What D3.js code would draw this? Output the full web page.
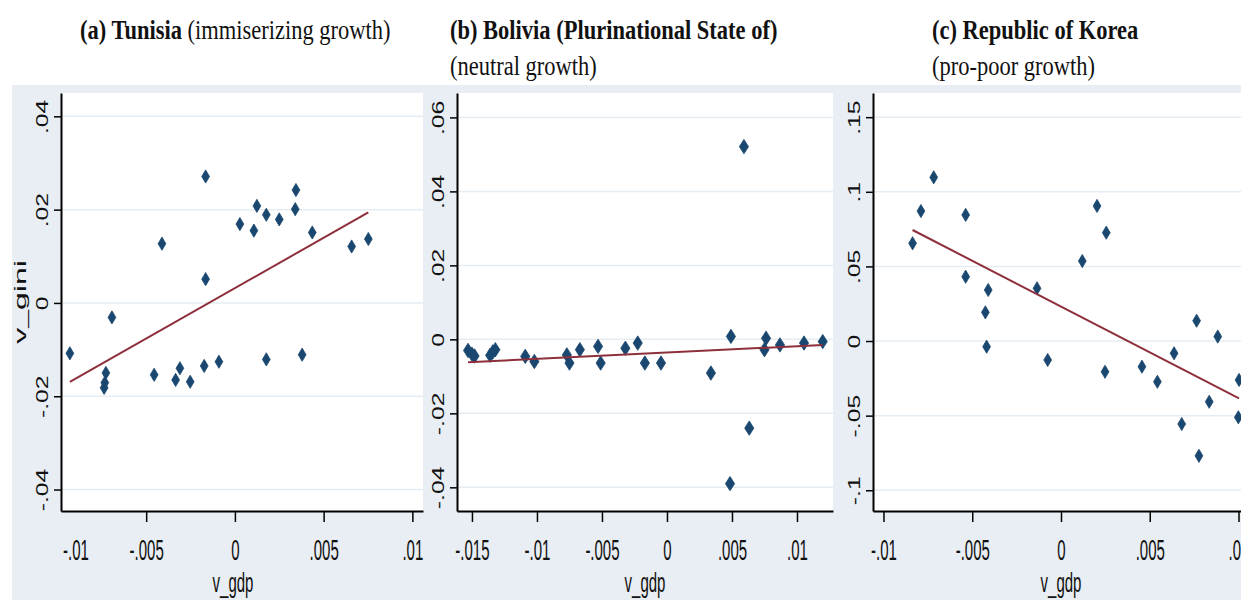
<!DOCTYPE html>
<html>
<head>
<meta charset="utf-8">
<script src="https://cdn.jsdelivr.net/npm/d3@7"></script>
<style>
  body { margin: 0; background: #ffffff; }
  svg { display: block; }
</style>
</head>
<body>
<svg id="chart" width="1241" height="600"></svg>
<script>
// ---- Data: yearly changes in GDP (v_gdp) and Gini (v_gini) ----

// (a) Tunisia
const tunisiaGdp  = [-0.00165, -0.00411, -0.00165, -0.00693, 0.00028, 0.00107, 0.00124, 0.00177, 0.0025,
                     0.00344, 0.0034, 0.00436, 0.00658, 0.00752, -0.0093, -0.00737, -0.00733, -0.00727,
                     -0.00455, -0.00334, -0.0031, -0.00252, -0.00173, -0.0009, 0.00177, 0.00379];
const tunisiaGini = [0.0271, 0.0127, 0.0051, -0.0031, 0.0169, 0.0155, 0.0208, 0.0189, 0.0179,
                     0.0242, 0.0201, 0.0151, 0.0121, 0.0137, -0.0108, -0.0182, -0.0171, -0.0150,
                     -0.0154, -0.0165, -0.0140, -0.0169, -0.0135, -0.0126, -0.0121, -0.0111];
const tunisiaFitGdp  = [-0.0093, 0.00752];
const tunisiaFitGini = [-0.0169, 0.0194];

// (b) Bolivia
const boliviaGdp  = [-0.0153, -0.0150, -0.0148, -0.0136, -0.0134, -0.0132, -0.0109, -0.0102, -0.0077,
                     -0.0075, -0.0067, -0.0053, -0.0051, -0.0032, -0.00225, -0.0017, -0.00046, 0.00338,
                     0.00492, 0.00485, 0.00633, 0.00592, 0.00762, 0.0075, 0.00869, 0.01054, 0.01198];
const boliviaGini = [-0.0030, -0.0040, -0.0045, -0.0043, -0.0034, -0.0028, -0.0046, -0.0060, -0.0042,
                     -0.0064, -0.0028, -0.0019, -0.0064, -0.0024, -0.0010, -0.0064, -0.0064, -0.0091,
                     0.0008, -0.0390, -0.0240, 0.0521, 0.0003, -0.0028, -0.0015, -0.0010, -0.0006];
const boliviaFitGdp  = [-0.0153, 0.01198];
const boliviaFitGini = [-0.0062, -0.0015];

// (c) Republic of Korea
const koreaGdp  = [-0.00836, -0.00789, -0.00717, -0.00537, -0.00537, -0.0041, -0.00426, -0.00135, 0.0012,
                   0.00203, 0.00255, 0.00764, 0.00883, -0.00419, -0.00075, 0.00248, 0.00456, 0.00543,
                   0.00637, 0.0068, 0.00777, 0.00835, 0.01003, 0.00999];
const koreaGini = [0.0655, 0.0871, 0.1097, 0.0845, 0.0431, 0.0342, 0.0192, 0.0353, 0.0536,
                   0.0905, 0.0726, 0.0136, 0.0030, -0.0038, -0.0127, -0.0206, -0.0172, -0.0273,
                   -0.0082, -0.0556, -0.0769, -0.0407, -0.0261, -0.0511];
const koreaFitGdp  = [-0.00836, 0.01003];
const koreaFitGini = [0.0744, -0.0384];

// Tick values and their labels
const tunisiaXTicks  = [-0.01, -0.005, 0, 0.005, 0.01];
const tunisiaXLabels = ["-.01", "-.005", "0", ".005", ".01"];
const tunisiaYTicks  = [-0.04, -0.02, 0, 0.02, 0.04];
const tunisiaYLabels = ["-.04", "-.02", "0", ".02", ".04"];

const boliviaXTicks  = [-0.015, -0.01, -0.005, 0, 0.005, 0.01];
const boliviaXLabels = ["-.015", "-.01", "-.005", "0", ".005", ".01"];
const boliviaYTicks  = [-0.04, -0.02, 0, 0.02, 0.04, 0.06];
const boliviaYLabels = ["-.04", "-.02", "0", ".02", ".04", ".06"];

const koreaXTicks  = [-0.01, -0.005, 0, 0.005, 0.01];
const koreaXLabels = ["-.01", "-.005", "0", ".005", ".01"];
const koreaYTicks  = [-0.1, -0.05, 0, 0.05, 0.1, 0.15];
const koreaYLabels = ["-.1", "-.05", "0", ".05", ".1", ".15"];

// ---- Layout ----
const TOP = 93, BOTTOM = 511;
const NAVY = "#1a476f", MAROON = "#8e2f3c";
const SANS = "'Liberation Sans', Arial, sans-serif";
const SERIF = "'Liberation Serif', 'Times New Roman', serif";

const panels = [
  { left: 61, right: 423, xDomain: [-0.0098, 0.0106], yDomain: [-0.0446, 0.045],
    gdp: tunisiaGdp, gini: tunisiaGini, fitGdp: tunisiaFitGdp, fitGini: tunisiaFitGini,
    xTicks: tunisiaXTicks, xLabels: tunisiaXLabels, yTicks: tunisiaYTicks, yLabels: tunisiaYLabels,
    titleX: 80, bold: "(a) Tunisia", rest: " (immiserizing growth)", line2: null,
    xTitleX: 233, yTitle: "v_gini", marker: [3.9, 6.6] },
  { left: 457, right: 833, xDomain: [-0.01615, 0.01277], yDomain: [-0.0464, 0.0666],
    gdp: boliviaGdp, gini: boliviaGini, fitGdp: boliviaFitGdp, fitGini: boliviaFitGini,
    xTicks: boliviaXTicks, xLabels: boliviaXLabels, yTicks: boliviaYTicks, yLabels: boliviaYLabels,
    titleX: 450, bold: "(b) Bolivia (Plurinational State of)", rest: "", line2: "(neutral growth)",
    xTitleX: 645, yTitle: null, marker: [4.6, 7.2] },
  { left: 873, right: 1241, xDomain: [-0.01059, 0.01014], yDomain: [-0.1139, 0.1662],
    gdp: koreaGdp, gini: koreaGini, fitGdp: koreaFitGdp, fitGini: koreaFitGini,
    xTicks: koreaXTicks, xLabels: koreaXLabels, yTicks: koreaYTicks, yLabels: koreaYLabels,
    titleX: 932, bold: "(c) Republic of Korea", rest: "", line2: "(pro-poor growth)",
    xTitleX: 1061, yTitle: null, marker: [3.9, 6.6] }
];

const svg = d3.select("#chart");

// graph region backdrop
svg.append("rect").attr("x", 12).attr("y", 85).attr("width", 1229).attr("height", 515)
  .attr("fill", "#e8eef4");

function diamond(w, h) {
  return `M0,${-h}L${w},0L0,${h}L${-w},0Z`;
}

panels.forEach(p => {
  const x = d3.scaleLinear().domain(p.xDomain).range([p.left, p.right]);
  const y = d3.scaleLinear().domain(p.yDomain).range([BOTTOM, TOP]);

  // plot region
  svg.append("rect").attr("x", p.left).attr("y", TOP)
    .attr("width", p.right - p.left).attr("height", BOTTOM - TOP).attr("fill", "#ffffff");

  // horizontal grid
  svg.append("g").selectAll("line").data(p.yTicks).join("line")
    .attr("x1", p.left).attr("x2", p.right)
    .attr("y1", d => y(d)).attr("y2", d => y(d))
    .attr("stroke", "#e6edf2").attr("stroke-width", 1.5);

  // scatter markers
  const pts = p.gdp.map((g, i) => [g, p.gini[i]]);
  svg.append("g").selectAll("path").data(pts).join("path")
    .attr("d", diamond(p.marker[0], p.marker[1]))
    .attr("transform", d => `translate(${x(d[0])},${y(d[1])})`)
    .attr("fill", NAVY).attr("stroke", NAVY).attr("stroke-width", 0.8);

  // linear fit
  const fit = p.fitGdp.map((g, i) => [g, p.fitGini[i]]);
  svg.append("path").datum(fit)
    .attr("d", d3.line().x(d => x(d[0])).y(d => y(d[1])))
    .attr("fill", "none").attr("stroke", MAROON).attr("stroke-width", 2);

  // x axis
  const gx = svg.append("g").attr("transform", `translate(0,${BOTTOM})`)
    .call(d3.axisBottom(x).tickValues(p.xTicks).tickFormat((d, i) => p.xLabels[i])
      .tickSize(11).tickSizeOuter(0));
  gx.select(".domain").attr("stroke", "#000").attr("stroke-width", 2);
  gx.selectAll(".tick line").attr("stroke", "#000").attr("stroke-width", 1.5);
  gx.selectAll(".tick text")
    .attr("x", null).attr("y", null).attr("dy", null)
    .attr("fill", "#111").attr("font-family", SANS).attr("font-size", 15)
    .attr("text-anchor", "middle")
    .attr("transform", "translate(0,49) scale(1,2)");
  // keep a label whose tick sits left of the y axis clear of it
  gx.selectAll(".tick").filter(d => x(d) < p.left).each(function () {
    const t = d3.select(this);
    t.select("line").remove();
    t.select("text").attr("transform", "translate(18,49) scale(1,2)");
  });

  // y axis
  const gy = svg.append("g").attr("transform", `translate(${p.left},0)`)
    .call(d3.axisLeft(y).tickValues(p.yTicks).tickFormat((d, i) => p.yLabels[i])
      .tickSize(7).tickSizeOuter(0));
  gy.select(".domain").attr("stroke", "#000").attr("stroke-width", 2);
  gy.selectAll(".tick line").attr("stroke", "#000").attr("stroke-width", 1.5);
  gy.selectAll(".tick text")
    .attr("x", null).attr("y", null).attr("dy", null)
    .attr("fill", "#111").attr("font-family", SANS).attr("font-size", 16.5)
    .attr("text-anchor", "middle")
    .attr("transform", "translate(-13,0) rotate(-90) scale(1.5,1)");

  // axis titles
  svg.append("text").text("v_gdp")
    .attr("font-family", SANS).attr("font-size", 15).attr("fill", "#111")
    .attr("text-anchor", "middle")
    .attr("transform", `translate(${p.xTitleX},592) scale(1,1.9)`);
  if (p.yTitle) {
    svg.append("text").text(p.yTitle)
      .attr("font-family", SANS).attr("font-size", 16).attr("fill", "#111")
      .attr("text-anchor", "middle")
      .attr("transform", `translate(26,${(TOP + BOTTOM) / 2}) rotate(-90) scale(2,1)`);
  }

  // panel title (one or two lines)
  const t = svg.append("text")
    .attr("transform", `translate(${p.titleX},39) scale(1,1.2)`)
    .attr("font-family", SERIF).attr("font-size", 22.5).attr("fill", "#111");
  t.append("tspan").attr("font-weight", "bold").text(p.bold);
  if (p.rest) t.append("tspan").text(p.rest);
  if (p.line2) {
    svg.append("text")
      .attr("transform", `translate(${p.titleX},75) scale(1,1.2)`)
      .attr("font-family", SERIF).attr("font-size", 22.5).attr("fill", "#111")
      .text(p.line2);
  }
});
</script>
</body>
</html>
